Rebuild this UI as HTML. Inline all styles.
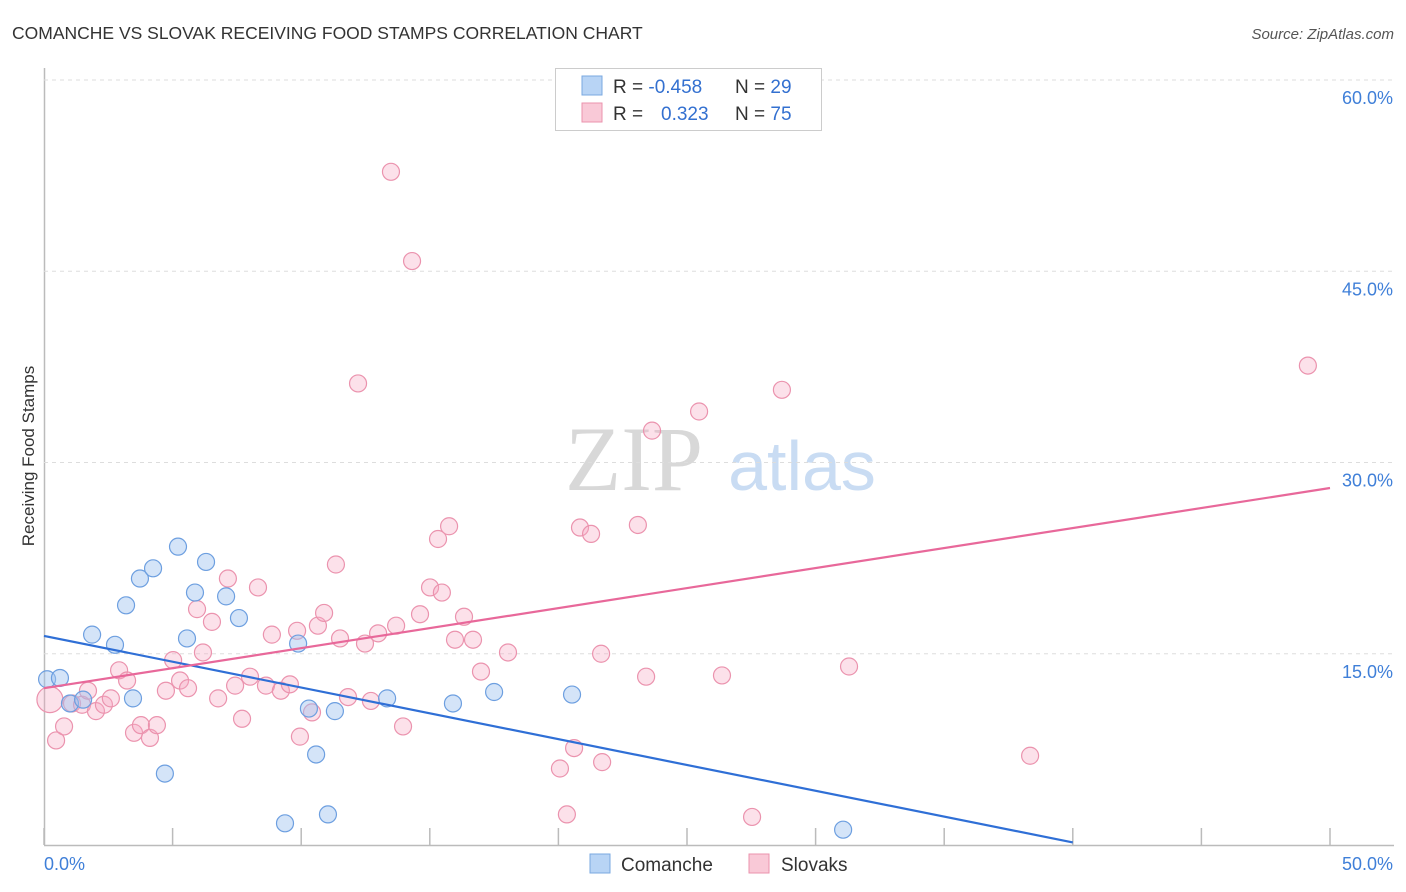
<!DOCTYPE html>
<html><head><meta charset="utf-8"><style>
body{margin:0;background:#fff;font-family:"Liberation Sans",sans-serif}
svg{display:block}
</style></head><body>
<svg id="c" width="1406" height="892">
<text x="12" y="39" font-size="17.5" fill="#333">COMANCHE VS SLOVAK RECEIVING FOOD STAMPS CORRELATION CHART</text>
<text x="1394" y="39" font-size="15" fill="#555" font-style="italic" text-anchor="end">Source: ZipAtlas.com</text>
<text transform="translate(34,456) rotate(-90)" font-size="17" fill="#333" text-anchor="middle">Receiving Food Stamps</text>
<g><text x="634" y="490" font-size="92" fill="#d8d8d8" font-family="Liberation Serif,serif" text-anchor="middle">ZIP</text><text x="802" y="490" font-size="70" fill="#c9dcf3" text-anchor="middle">atlas</text></g>
<g id="grid"></g><g id="pts"></g><g id="lines"></g>
<g>
<rect x="555.5" y="68.5" width="266" height="62" fill="#fff" stroke="#ccc"/>
<rect x="582" y="76" width="20" height="19" fill="#b8d4f5" stroke="#7aa8e0"/>
<rect x="582" y="103" width="20" height="19" fill="#f9c9d7" stroke="#eb93ae"/>
<text x="613" y="93" font-size="19" fill="#333">R = <tspan fill="#3370d0">-0.458</tspan><tspan x="735">N = </tspan><tspan fill="#3370d0">29</tspan></text>
<text x="613" y="120" font-size="19" fill="#333">R = <tspan x="661" fill="#3370d0">0.323</tspan><tspan x="735">N = </tspan><tspan fill="#3370d0">75</tspan></text>
</g>
<g>
<rect x="590" y="854" width="20" height="19" fill="#b8d4f5" stroke="#7aa8e0"/>
<text x="621" y="871" font-size="19" fill="#333">Comanche</text>
<rect x="749" y="854" width="20" height="19" fill="#f9c9d7" stroke="#eb93ae"/>
<text x="781" y="871" font-size="19" fill="#333">Slovaks</text>
</g>
</svg>
<script>
const yTicks=[15,30,45,60];
const xTickLabels=["0.0%","50.0%"];
const comancheX=[0.12,0.62,1.01,1.52,1.87,2.76,3.19,3.46,3.73,4.24,4.70,5.21,5.56,5.87,6.30,7.08,7.58,9.37,9.88,10.30,10.58,11.04,11.31,13.34,15.90,17.50,20.53,31.07];
const comancheY=[13.0,13.1,11.1,11.4,16.5,15.7,18.8,11.5,20.9,21.7,5.6,23.4,16.2,19.8,22.2,19.5,17.8,1.7,15.8,10.7,7.1,2.4,10.5,11.5,11.1,12.0,11.8,1.2];
const slovakX=[0.23,0.47,0.78,1.09,1.48,1.71,2.02,2.33,2.60,2.92,3.23,3.50,3.77,4.12,4.39,4.74,5.02,5.29,5.60,5.95,6.18,6.53,6.77,7.15,7.43,7.70,8.01,8.32,8.63,8.86,9.21,9.56,9.84,9.95,10.42,10.65,10.89,11.35,11.51,11.82,12.21,12.48,12.71,12.99,13.49,13.69,13.96,14.31,14.62,15.01,15.32,15.47,15.75,15.98,16.33,16.68,16.99,18.04,20.06,20.33,20.61,20.84,21.27,21.66,21.70,23.09,23.41,23.64,25.47,26.36,27.53,28.69,31.30,38.34,49.14];
const slovakY=[11.4,8.2,9.3,11.1,11.0,12.1,10.5,11.0,11.5,13.7,12.9,8.8,9.4,8.4,9.4,12.1,14.5,12.9,12.3,18.5,15.1,17.5,11.5,20.9,12.5,9.9,13.2,20.2,12.5,16.5,12.1,12.6,16.8,8.5,10.4,17.2,18.2,22.0,16.2,11.6,36.2,15.8,11.3,16.6,52.8,17.2,9.3,45.8,18.1,20.2,24.0,19.8,25.0,16.1,17.9,16.1,13.6,15.1,6.0,2.4,7.6,24.9,24.4,15.0,6.5,25.1,13.2,32.5,34.0,13.3,2.2,35.7,14.0,7.0,37.6];
const comancheTrend=[16.4,0.2]; // at x=0 and x=40
const slovakTrend=[12.3,28.0]; // at x=0 and x=50
const NS="http://www.w3.org/2000/svg";
const X=v=>44+v*25.72, Y=v=>845-v*12.75;
function mk(tag,attrs,parent){const e=document.createElementNS(NS,tag);for(const k in attrs)e.setAttribute(k,attrs[k]);document.getElementById(parent).appendChild(e);return e;}
const svg=document.getElementById('c');
// axes
let ax=mk('line',{x1:44.5,y1:68,x2:44.5,y2:845,stroke:'#bbb','stroke-width':1.5},'grid');


let bx=mk('line',{x1:44,y1:845.5,x2:1394,y2:845.5,stroke:'#bbb','stroke-width':1.5},'grid');


for(let i=0;i<=10;i++){const t=mk('line',{x1:X(i*5),y1:828,x2:X(i*5),y2:845,stroke:'#bbb','stroke-width':1.5},'grid');

}
yTicks.forEach(v=>{const g=mk('line',{x1:44,y1:Y(v),x2:1394,y2:Y(v),stroke:'#ddd','stroke-dasharray':'4,4'},'grid');


const t=mk('text',{x:1393,y:Y(v)+24,'font-size':18,fill:'#3f7fd8','text-anchor':'end'},'grid');t.textContent=v.toFixed(1)+'%';

});
const xl0=mk('text',{x:44,y:870,'font-size':18,fill:'#3f7fd8'},'grid');xl0.textContent=xTickLabels[0];


const xl1=mk('text',{x:1393,y:870,'font-size':18,fill:'#3f7fd8','text-anchor':'end'},'grid');xl1.textContent=xTickLabels[1];


slovakX.forEach((x,i)=>{const c=mk('circle',{cx:X(x),cy:Y(slovakY[i]),r:i===0?13:8.5,fill:'rgba(245,170,195,0.35)',stroke:'#eb93ae','stroke-width':1.2},'pts');

});
comancheX.forEach((x,i)=>{const c=mk('circle',{cx:X(x),cy:Y(comancheY[i]),r:8.5,fill:'rgba(160,195,240,0.45)',stroke:'#6d9fe0','stroke-width':1.2},'pts');

});
const l1=mk('line',{x1:X(0),y1:Y(comancheTrend[0]),x2:X(40),y2:Y(comancheTrend[1]),stroke:'#2f6fd6','stroke-width':2.2},'lines');


const l2=mk('line',{x1:X(0),y1:Y(slovakTrend[0]),x2:X(50),y2:Y(slovakTrend[1]),stroke:'#e8689a','stroke-width':2.2},'lines');


</script>
</body></html>
